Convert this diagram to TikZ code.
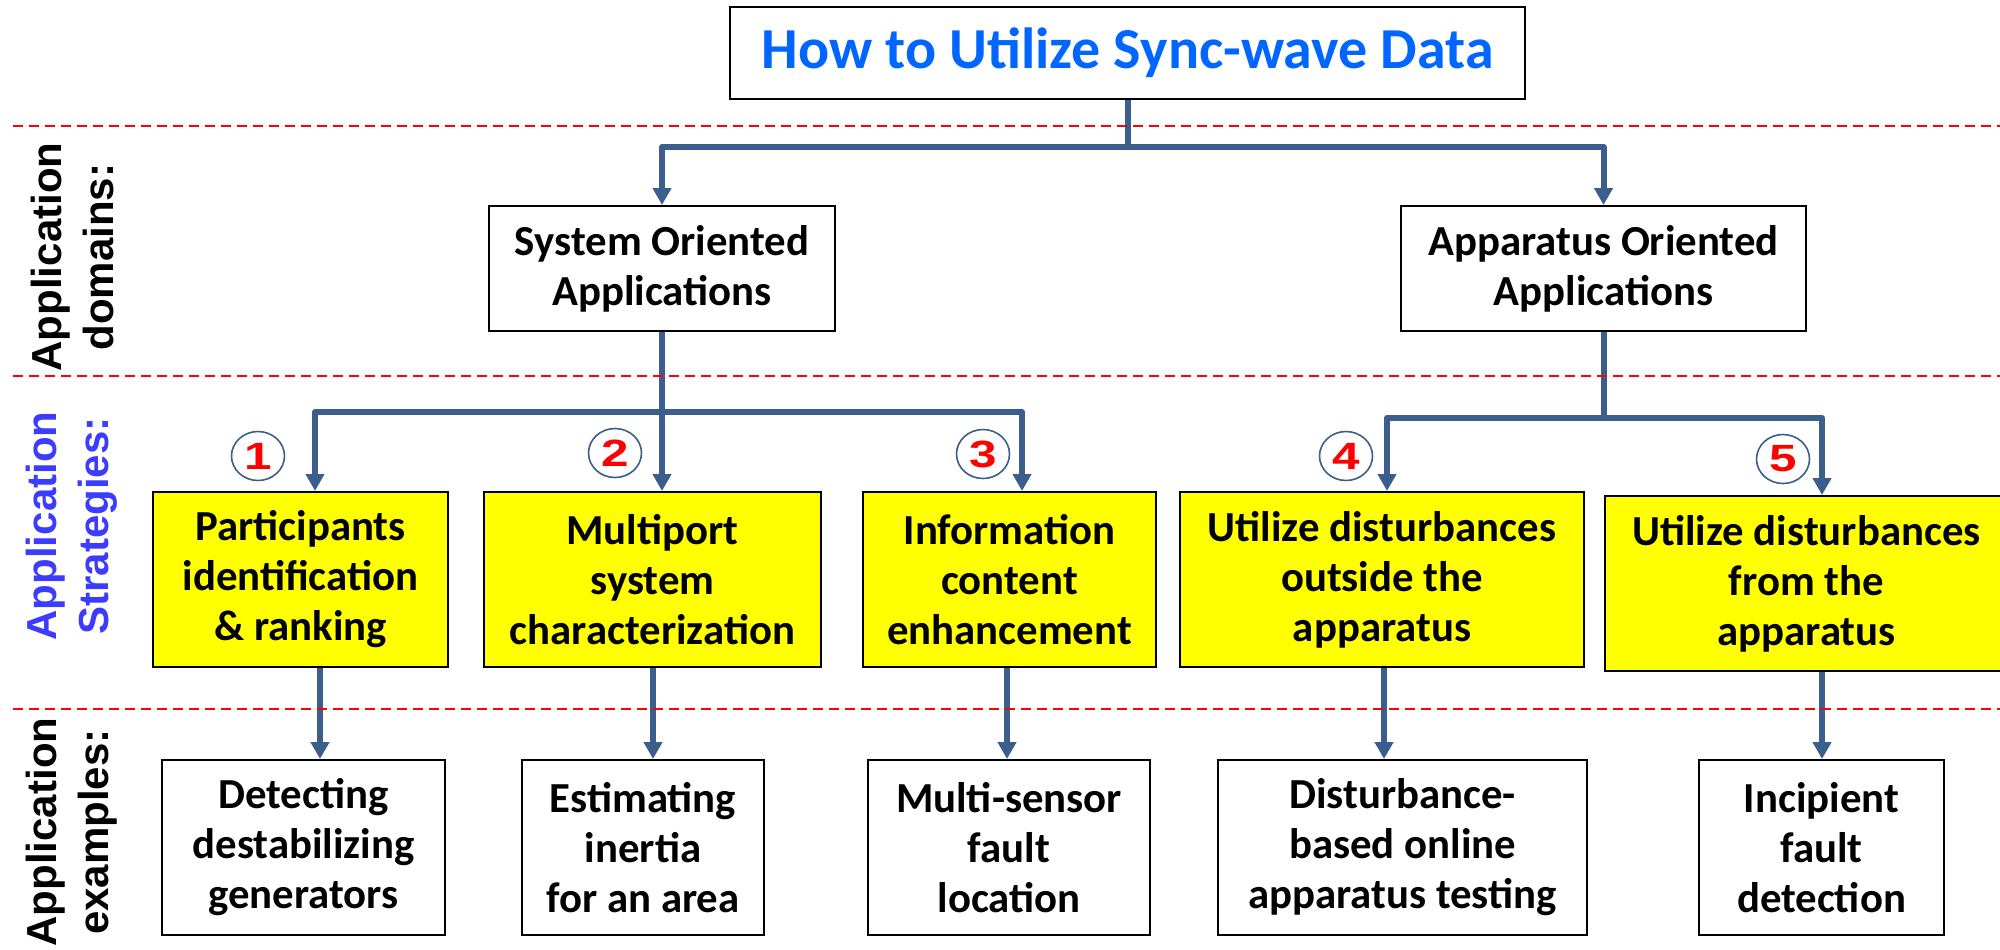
\documentclass[tikz,border=0pt]{standalone}
\usepackage{fontspec}
\setmainfont{Carlito}
\newfontfamily\labfont{Liberation Sans}
\newfontfamily\numfont{Liberation Sans}[FakeStretch=1.3]
\usetikzlibrary{arrows.meta,shapes.geometric}
\definecolor{conn}{RGB}{59,94,140}
\definecolor{ttl}{RGB}{0,102,255}
\definecolor{strat}{RGB}{60,60,255}
\definecolor{yel}{RGB}{255,255,0}
\begin{document}
\begin{tikzpicture}[x=0.5pt,y=-0.5pt,
 box/.style={draw=black, line width=1pt, align=center, inner sep=0pt,
   font=\bfseries\fontsize{21.4pt}{25pt}\selectfont, minimum height=87.5pt},
 ybox/.style={box, fill=yel},
 wire/.style={draw=conn, line width=3pt, line join=round},
 arr/.style={wire, -{Triangle[width=9pt,length=8.5pt]}},
 sep/.style={draw=red, line width=1pt, dash pattern=on 5pt off 3pt},
 lab/.style={rotate=90, align=center, inner sep=0pt,
   font=\labfont\bfseries\fontsize{21pt}{26pt}\selectfont},
 num/.style={ellipse, draw=conn, line width=0.8pt, minimum width=26.5pt, minimum height=24.5pt, inner sep=0pt,
   text=red, font=\numfont\bfseries\fontsize{19pt}{19pt}\selectfont}]
\useasboundingbox (0,0) rectangle (2000,949);

% nodes
\node[box, minimum width=397.5pt, minimum height=46pt, text=ttl,
  font=\bfseries\fontsize{29pt}{30pt}\selectfont] (title) at (1127.5,53) {How to Utilize Sync-wave Data};
\node[box, minimum width=173pt, minimum height=62.5pt] (sys) at (662,268.5) {System Oriented\\Applications};
\node[box, minimum width=202.5pt, minimum height=62.5pt] (app) at (1603.5,268.5) {Apparatus Oriented\\Applications};

\node[ybox, minimum width=147.5pt] (y1) at (300.5,579.5) {Participants\\identification\\\& ranking};
\node[ybox, minimum width=168.5pt] (y2) at (652.5,579.5) {Multiport\\system\\characterization};
\node[ybox, minimum width=146.5pt] (y3) at (1009.5,579.5) {Information\\content\\enhancement};
\node[ybox, minimum width=202pt] (y4) at (1382,579.5) {Utilize disturbances\\outside the\\apparatus};
\node[ybox, minimum width=201.5pt] (y5) at (1806.5,583.5) {Utilize disturbances\\from the\\apparatus};

\node[box, minimum width=141.5pt] (b1) at (303.5,847.5) {Detecting\\destabilizing\\generators};
\node[box, minimum width=121pt] (b2) at (643,847.5) {Estimating\\inertia\\for an area};
\node[box, minimum width=141pt] (b3) at (1009,847.5) {Multi-sensor\\fault\\location};
\node[box, minimum width=184.5pt] (b4) at (1402.5,847.5) {Disturbance-\\based online\\apparatus testing};
\node[box, minimum width=122.5pt] (b5) at (1821.5,847.5) {Incipient\\fault\\detection};

\node[num] (n1) at (258,456) {1};
\node[num] (n2) at (615,453) {2};
\node[num] (n3) at (983,454) {3};
\node[num] (n4) at (1346,456) {4};
\node[num] (n5) at (1783,459) {5};

\node[lab] (ld) at (72,257) {Application\\domains:};
\node[lab, text=strat] (ls) at (72,526) {Application\\Strategies:};
\node[lab] (le) at (72,832) {Application\\examples:};

% connectors
\coordinate (j0) at (1127.5,147);
\coordinate (j1) at (662,412);
\coordinate (j2) at (1603.5,418);
\coordinate (x1) at (315,0);
\coordinate (x3) at (1022,0);
\coordinate (x4) at (1387,0);
\coordinate (x5) at (1822,0);
\coordinate (c1) at (320,0);
\coordinate (c2) at (653,0);
\coordinate (c3) at (1007,0);
\coordinate (c4) at (1384,0);
\coordinate (c5) at (1822,0);

\draw[wire] (title.south) -- (j0);
\draw[arr] (j0) -| (sys.north);
\draw[arr] (j0) -| (app.north);
\draw[wire] (sys.south) -- (j1);
\draw[arr] (j1) -| (x1 |- y1.north);
\draw[arr] (j1) -- (j1 |- y2.north);
\draw[arr] (j1) -| (x3 |- y3.north);
\draw[wire] (app.south) -- (j2);
\draw[arr] (j2) -| (x4 |- y4.north);
\draw[arr] (j2) -| (x5 |- y5.north);
\draw[arr] (c1 |- y1.south) -- (c1 |- b1.north);
\draw[arr] (c2 |- y2.south) -- (c2 |- b2.north);
\draw[arr] (c3 |- y3.south) -- (c3 |- b3.north);
\draw[arr] (c4 |- y4.south) -- (c4 |- b4.north);
\draw[arr] (c5 |- y5.south) -- (c5 |- b5.north);

% separators
\draw[sep] (13,126) -- (2000,126);
\draw[sep] (13,376) -- (2000,376);
\draw[sep] (13,709) -- (2000,709);
\end{tikzpicture}
\end{document}
